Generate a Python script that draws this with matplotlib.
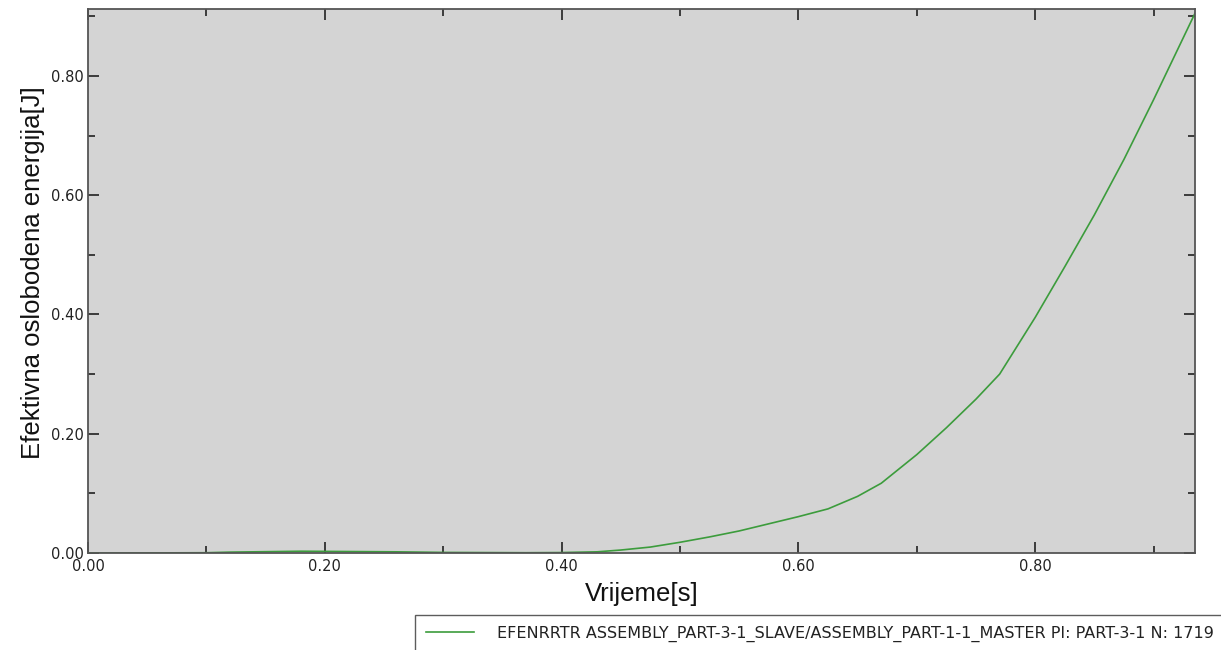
import numpy as np
import matplotlib.pyplot as plt
from matplotlib.ticker import MultipleLocator, FormatStrFormatter

# time [s] and effective released energy [J]
t = [0.0, 0.03, 0.10, 0.12, 0.18, 0.26, 0.30, 0.37, 0.40, 0.43, 0.45, 0.475,
     0.50, 0.525, 0.55, 0.575, 0.60, 0.625, 0.65, 0.67, 0.70, 0.725, 0.75,
     0.77, 0.80, 0.825, 0.85, 0.875, 0.90, 0.935]
energy = [0.0, 0.0, 0.0005, 0.0015, 0.003, 0.002, 0.001, 0.0005, 0.0008, 0.002,
          0.005, 0.010, 0.018, 0.027, 0.037, 0.049, 0.061, 0.074, 0.095, 0.117,
          0.165, 0.21, 0.258, 0.30, 0.395, 0.48, 0.567, 0.66, 0.76, 0.905]
legend_label = "EFENRRTR ASSEMBLY_PART-3-1_SLAVE/ASSEMBLY_PART-1-1_MASTER PI: PART-3-1 N: 1719"

fig = plt.figure(figsize=(12.21, 6.5), dpi=100)
ax = fig.add_axes([0.0721, 0.1492, 0.9066, 0.8368])
ax.set_facecolor('#d4d4d4')

line, = ax.plot(t, energy, color='#3c9c3c', lw=1.2, label=legend_label)

ax.set_xlim(0, 0.935)
ax.set_ylim(0, 0.912)
ax.xaxis.set_major_locator(MultipleLocator(0.2))
ax.xaxis.set_minor_locator(MultipleLocator(0.1))
ax.yaxis.set_major_locator(MultipleLocator(0.2))
ax.yaxis.set_minor_locator(MultipleLocator(0.1))
ax.xaxis.set_major_formatter(FormatStrFormatter('%.2f'))
ax.yaxis.set_major_formatter(FormatStrFormatter('%.2f'))
ax.tick_params(which='both', direction='in', top=True, right=True,
               colors='#222222', labelsize=10.5, width=1.2)
ax.tick_params(which='major', length=8, pad=4)
ax.tick_params(axis='y', which='major', pad=3)
ax.tick_params(which='minor', length=5)
for s in ax.spines.values():
    s.set_color('#555555')
    s.set_linewidth(1.3)

ax.set_xlabel('Vrijeme[s]', fontsize=18.5, family='Liberation Sans',
              color='#111111', labelpad=6)
ax.set_ylabel('Efektivna oslobodena energija[J]', fontsize=18.5,
              family='Liberation Sans', color='#111111')
ax.yaxis.set_label_coords(-0.039, 0.515)

leg = fig.legend(handles=[line], loc='upper left', bbox_to_anchor=(0.340, 0.054),
                 fontsize=11.5, frameon=True, fancybox=False, handlelength=3.0,
                 handletextpad=1.45, borderpad=0.7, borderaxespad=0)
leg.get_frame().set_edgecolor('#333333')
leg.get_frame().set_linewidth(1.0)
for txt in leg.get_texts():
    txt.set_color('#222222')

fig.savefig('out.png', dpi=100)
